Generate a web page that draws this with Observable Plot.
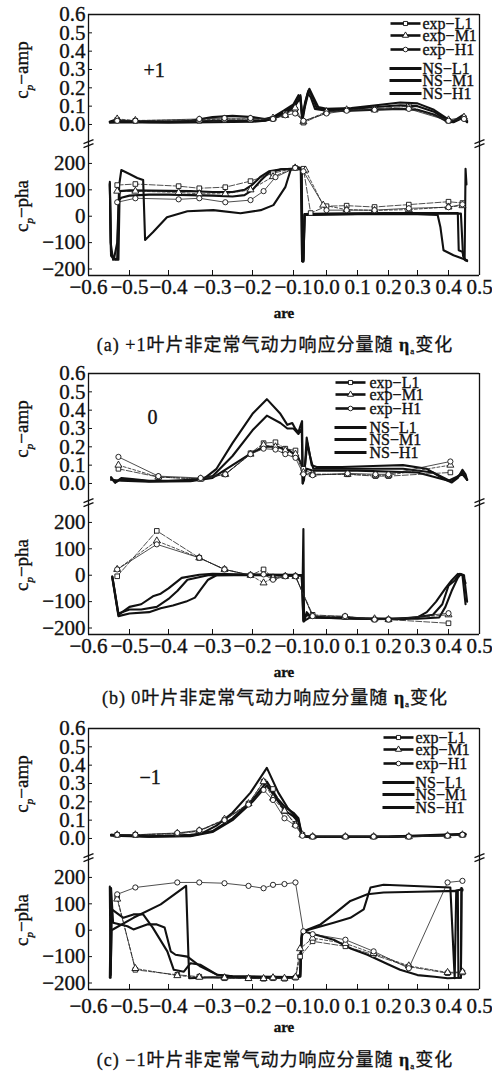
<!DOCTYPE html>
<html><head><meta charset="utf-8">
<script src="https://cdn.jsdelivr.net/npm/d3@7"></script>
<script src="https://cdn.jsdelivr.net/npm/@observablehq/plot@0.6"></script>
<style>
body{margin:0;background:#fff;}
#root{position:relative;width:492px;height:1075px;overflow:hidden;background:#fff;}
.pl{position:absolute;left:0;}
.pl text{stroke:#111;stroke-width:0.35px;}
.cap{position:absolute;white-space:nowrap;transform:translateX(-50%);font-family:"Liberation Serif","Noto Sans CJK SC",serif;font-size:18px;letter-spacing:1px;color:#111;line-height:24px;-webkit-text-stroke:0.3px #111;}
.cap sub{font-size:9px;vertical-align:-3px;}
</style></head><body><div id="root"></div>
<script>
// ---------- tick values / labels ----------
const xTicks = [-0.6,-0.5,-0.4,-0.3,-0.2,-0.1,0.0,0.1,0.2,0.3,0.4,0.5];
const ampTicks = [0,0.1,0.2,0.3,0.4,0.5,0.6];
const phaTicks = [-200,-100,0,100,200];
const seriesNames = ["exp−L1","exp−M1","exp−H1","NS−L1","NS−M1","NS−H1"];
const panelTags = ["+1","0","−1"];
const captionLead = ["(a) +1叶片非定常气动力响应分量随 ","(b) 0叶片非定常气动力响应分量随 ","(c) −1叶片非定常气动力响应分量随 "];
const xLabel = "are";
const ampName = "amp", phaName = "pha";

// ---------- panel (a) +1 ----------
const aAmpExpL1 = [[-0.53,0.025],[-0.485,0.02],[-0.33,0.02],[-0.27,0.025],[-0.205,0.025],[-0.15,0.03],[-0.12,0.06],[-0.095,0.08],[-0.07,0.01],[0.0,0.065],[0.065,0.08],[0.155,0.085],[0.27,0.1],[0.4,0.02],[0.45,0.035]];
const aAmpExpM1 = [[-0.53,0.03],[-0.485,0.022],[-0.33,0.025],[-0.27,0.03],[-0.205,0.03],[-0.15,0.035],[-0.12,0.05],[-0.095,0.09],[-0.07,0.015],[0.0,0.07],[0.065,0.08],[0.155,0.08],[0.27,0.09],[0.4,0.025],[0.45,0.04]];
const aAmpExpH1 = [[-0.53,0.02],[-0.485,0.02],[-0.33,0.03],[-0.27,0.035],[-0.205,0.035],[-0.15,0.03],[-0.12,0.05],[-0.095,0.06],[-0.07,0.02],[0.0,0.06],[0.065,0.075],[0.155,0.08],[0.27,0.085],[0.4,0.02],[0.45,0.03]];
const aAmpNsL1 = [[-0.548,0.015],[-0.53,0.03],[-0.52,0.02],[-0.48,0.015],[-0.4,0.015],[-0.35,0.02],[-0.3,0.04],[-0.25,0.048],[-0.2,0.04],[-0.17,0.03],[-0.15,0.04],[-0.124,0.075],[-0.1,0.11],[-0.085,0.16],[-0.078,0.12],[-0.073,0.02],[-0.065,0.1],[-0.052,0.195],[-0.04,0.15],[-0.025,0.095],[0.0,0.085],[0.08,0.09],[0.16,0.105],[0.24,0.12],[0.3,0.115],[0.353,0.08],[0.397,0.03],[0.416,0.018],[0.445,0.05],[0.46,0.02]];
const aAmpNsM1 = [[-0.548,0.015],[-0.52,0.018],[-0.45,0.012],[-0.35,0.015],[-0.3,0.02],[-0.25,0.02],[-0.2,0.02],[-0.17,0.02],[-0.15,0.035],[-0.124,0.07],[-0.1,0.1],[-0.085,0.15],[-0.079,0.16],[-0.073,0.03],[-0.065,0.12],[-0.055,0.185],[-0.045,0.16],[-0.03,0.09],[0.0,0.08],[0.08,0.085],[0.16,0.095],[0.24,0.105],[0.3,0.1],[0.353,0.07],[0.397,0.02],[0.416,0.015],[0.445,0.04],[0.46,0.015]];
const aAmpNsH1 = [[-0.548,0.01],[-0.5,0.012],[-0.4,0.01],[-0.3,0.012],[-0.2,0.015],[-0.17,0.02],[-0.15,0.03],[-0.124,0.06],[-0.1,0.09],[-0.085,0.13],[-0.079,0.15],[-0.074,0.04],[-0.065,0.11],[-0.057,0.17],[-0.048,0.15],[-0.035,0.085],[0.0,0.075],[0.08,0.075],[0.16,0.08],[0.24,0.085],[0.3,0.08],[0.353,0.055],[0.397,0.015],[0.416,0.012],[0.445,0.035],[0.46,0.012]];

const aPhaExpL1 = [[-0.53,118],[-0.485,122],[-0.377,114],[-0.33,106],[-0.268,110],[-0.205,133],[-0.15,163],[-0.095,183],[-0.07,180],[-0.048,12],[0.0,38],[0.065,40],[0.155,35],[0.27,44],[0.4,55],[0.445,50]];
const aPhaExpM1 = [[-0.53,95],[-0.485,95],[-0.377,90],[-0.33,85],[-0.268,85],[-0.205,100],[-0.15,150],[-0.095,183],[-0.064,175],[-0.01,42],[0.065,25],[0.155,22],[0.27,25],[0.4,35],[0.445,40]];
const aPhaExpH1 = [[-0.53,53],[-0.485,68],[-0.377,64],[-0.33,68],[-0.268,53],[-0.205,61],[-0.173,95],[-0.144,148],[-0.095,183],[-0.07,170],[0.0,23],[0.065,23],[0.155,23],[0.27,30],[0.4,34],[0.445,45]];
const aPhaNsL1 = [[-0.548,130],[-0.545,-150],[-0.538,-162],[-0.53,-100],[-0.525,120],[-0.52,175],[-0.5,160],[-0.48,145],[-0.465,137],[-0.46,-90],[-0.44,-61],[-0.404,-4],[-0.357,19],[-0.298,23],[-0.23,11],[-0.18,23],[-0.149,42],[-0.12,110],[-0.107,175],[-0.088,186],[-0.075,182],[-0.073,-172],[-0.07,-165],[-0.066,5],[-0.05,5],[0.1,8],[0.3,8],[0.365,5],[0.374,-42],[0.384,-129],[0.416,-148],[0.46,-167]];
const aPhaNsM1 = [[-0.548,125],[-0.545,-140],[-0.535,-165],[-0.527,-165],[-0.524,95],[-0.5,98],[-0.45,97],[-0.4,96],[-0.35,95],[-0.3,92],[-0.25,92],[-0.22,100],[-0.2,120],[-0.18,150],[-0.16,170],[-0.13,178],[-0.1,180],[-0.078,178],[-0.074,-170],[-0.07,-172],[-0.067,8],[0.0,10],[0.2,12],[0.35,12],[0.43,12],[0.433,-129],[0.445,-135],[0.452,-165],[0.455,180],[0.458,120]];
const aPhaNsH1 = [[-0.548,120],[-0.546,-100],[-0.54,-165],[-0.53,-160],[-0.526,60],[-0.52,70],[-0.5,78],[-0.45,82],[-0.4,82],[-0.35,80],[-0.3,78],[-0.25,75],[-0.22,80],[-0.2,100],[-0.18,135],[-0.16,165],[-0.13,178],[-0.1,180],[-0.076,178],[-0.074,-170],[-0.07,-170],[-0.066,5],[0.0,8],[0.2,10],[0.4,10],[0.44,10],[0.447,-150],[0.455,-168],[0.46,-170]];

// ---------- panel (b) 0 ----------
const bAmpExpL1 = [[-0.527,0.08],[-0.426,0.035],[-0.327,0.025],[-0.268,0.05],[-0.205,0.165],[-0.173,0.22],[-0.144,0.225],[-0.12,0.19],[-0.094,0.18],[-0.07,0.08],[-0.042,0.05],[0.068,0.05],[0.158,0.04],[0.2,0.04],[0.406,0.06]];
const bAmpExpM1 = [[-0.527,0.1],[-0.426,0.035],[-0.327,0.025],[-0.268,0.05],[-0.205,0.16],[-0.173,0.21],[-0.144,0.2],[-0.12,0.18],[-0.094,0.16],[-0.07,0.06],[-0.042,0.05],[0.068,0.05],[0.158,0.045],[0.2,0.045],[0.406,0.1]];
const bAmpExpH1 = [[-0.527,0.145],[-0.426,0.04],[-0.327,0.03],[-0.268,0.05],[-0.205,0.16],[-0.173,0.19],[-0.144,0.185],[-0.12,0.16],[-0.094,0.14],[-0.07,0.05],[-0.042,0.045],[0.068,0.055],[0.158,0.05],[0.2,0.05],[0.406,0.12]];
const bAmpNsL1 = [[-0.545,0.035],[-0.535,0.005],[-0.52,0.03],[-0.5,0.025],[-0.45,0.015],[-0.4,0.015],[-0.35,0.02],[-0.32,0.025],[-0.29,0.08],[-0.25,0.22],[-0.2,0.38],[-0.165,0.46],[-0.132,0.38],[-0.115,0.32],[-0.103,0.33],[-0.095,0.3],[-0.085,0.28],[-0.078,0.32],[-0.074,0.34],[-0.072,0.0],[-0.068,0.02],[-0.06,0.25],[-0.055,0.2],[-0.045,0.1],[-0.03,0.09],[0.05,0.09],[0.15,0.095],[0.25,0.1],[0.33,0.08],[0.38,0.03],[0.41,0.005],[0.43,0.03],[0.445,0.075],[0.455,0.05],[0.46,0.02]];
const bAmpNsM1 = [[-0.545,0.03],[-0.535,0.005],[-0.52,0.025],[-0.45,0.012],[-0.35,0.015],[-0.3,0.04],[-0.25,0.15],[-0.2,0.29],[-0.165,0.37],[-0.132,0.33],[-0.115,0.3],[-0.1,0.3],[-0.085,0.27],[-0.075,0.3],[-0.072,0.0],[-0.065,0.1],[-0.058,0.22],[-0.05,0.15],[-0.04,0.08],[0.1,0.08],[0.25,0.08],[0.35,0.06],[0.41,0.01],[0.445,0.06],[0.46,0.02]];
const bAmpNsH1 = [[-0.545,0.02],[-0.52,0.015],[-0.45,0.01],[-0.35,0.012],[-0.3,0.03],[-0.25,0.1],[-0.2,0.17],[-0.17,0.2],[-0.14,0.2],[-0.11,0.18],[-0.085,0.14],[-0.075,0.1],[-0.07,0.03],[-0.06,0.08],[-0.04,0.07],[0.1,0.07],[0.3,0.06],[0.4,0.015],[0.445,0.05],[0.46,0.02]];

const bPhaExpL1 = [[-0.53,-4],[-0.43,168],[-0.33,66],[-0.27,22],[-0.205,0],[-0.173,22],[-0.15,-10],[-0.12,-4],[-0.094,-4],[-0.042,-150],[0.06,-157],[0.155,-168],[0.2,-168],[0.4,-182]];
const bPhaExpM1 = [[-0.53,22],[-0.43,130],[-0.33,66],[-0.27,22],[-0.205,0],[-0.173,-29],[-0.15,-10],[-0.12,-4],[-0.094,-4],[-0.042,-155],[0.06,-158],[0.155,-165],[0.2,-168],[0.4,-150]];
const bPhaExpH1 = [[-0.53,22],[-0.43,117],[-0.33,66],[-0.27,22],[-0.205,0],[-0.173,3],[-0.15,-17],[-0.12,-4],[-0.094,-4],[-0.042,-155],[0.06,-155],[0.155,-168],[0.2,-168],[0.4,-144]];
const bPhaNsL1 = [[-0.542,-5],[-0.527,-150],[-0.5,-120],[-0.47,-110],[-0.44,-80],[-0.42,-70],[-0.4,-50],[-0.37,-10],[-0.33,2],[-0.3,5],[-0.2,3],[-0.1,2],[-0.072,0],[-0.07,175],[-0.068,-175],[-0.06,-140],[-0.05,-155],[0,-160],[0.1,-163],[0.2,-165],[0.3,-160],[0.33,-140],[0.36,-100],[0.39,-50],[0.41,-20],[0.43,5],[0.445,0],[0.455,-110]];
const bPhaNsM1 = [[-0.542,-5],[-0.527,-145],[-0.5,-130],[-0.47,-130],[-0.43,-120],[-0.4,-90],[-0.38,-60],[-0.357,-17],[-0.31,0],[-0.2,0],[-0.075,-2],[-0.07,-170],[-0.06,-150],[-0.04,-160],[0.1,-165],[0.25,-167],[0.35,-150],[0.38,-110],[0.4,-40],[0.42,-20],[0.435,5],[0.445,0],[0.455,-30]];
const bPhaNsH1 = [[-0.542,-10],[-0.527,-155],[-0.5,-145],[-0.45,-140],[-0.42,-125],[-0.39,-115],[-0.36,-100],[-0.34,-85],[-0.327,-55],[-0.31,-17],[-0.29,0],[-0.2,2],[-0.075,0],[-0.07,-175],[-0.05,-160],[0.1,-165],[0.3,-165],[0.37,-160],[0.39,-120],[0.41,-60],[0.43,-10],[0.44,5],[0.45,0],[0.46,-100]];

// ---------- panel (c) -1 ----------
const cAmpExpL1 = [[-0.53,0.02],[-0.485,0.02],[-0.38,0.025],[-0.33,0.04],[-0.27,0.1],[-0.21,0.19],[-0.173,0.31],[-0.15,0.27],[-0.122,0.15],[-0.094,0.08],[-0.073,0.02],[-0.042,0.01],[0.061,0.01],[0.152,0.01],[0.27,0.01],[0.397,0.015],[0.445,0.02]];
const cAmpExpM1 = [[-0.53,0.02],[-0.485,0.02],[-0.38,0.028],[-0.33,0.042],[-0.27,0.105],[-0.21,0.19],[-0.173,0.31],[-0.15,0.22],[-0.122,0.15],[-0.094,0.075],[-0.073,0.02],[-0.042,0.01],[0.061,0.01],[0.152,0.01],[0.27,0.01],[0.397,0.015],[0.445,0.02]];
const cAmpExpH1 = [[-0.53,0.02],[-0.485,0.02],[-0.38,0.03],[-0.33,0.045],[-0.27,0.1],[-0.21,0.185],[-0.173,0.265],[-0.15,0.21],[-0.122,0.11],[-0.094,0.07],[-0.073,0.015],[-0.042,0.01],[0.061,0.01],[0.152,0.01],[0.27,0.01],[0.397,0.015],[0.445,0.02]];
const cAmpNsL1 = [[-0.545,0.02],[-0.5,0.015],[-0.45,0.012],[-0.4,0.015],[-0.35,0.02],[-0.327,0.025],[-0.29,0.07],[-0.25,0.14],[-0.205,0.25],[-0.165,0.385],[-0.137,0.25],[-0.115,0.17],[-0.1,0.13],[-0.085,0.1],[-0.075,0.02],[-0.06,0.012],[0,0.01],[0.2,0.01],[0.35,0.015],[0.42,0.02],[0.455,0.02]];
const cAmpNsM1 = [[-0.545,0.02],[-0.45,0.01],[-0.35,0.015],[-0.3,0.04],[-0.25,0.11],[-0.2,0.21],[-0.165,0.31],[-0.14,0.22],[-0.12,0.17],[-0.1,0.14],[-0.085,0.11],[-0.075,0.02],[-0.06,0.01],[0.2,0.01],[0.455,0.025]];
const cAmpNsH1 = [[-0.545,0.015],[-0.45,0.01],[-0.35,0.012],[-0.3,0.035],[-0.25,0.1],[-0.2,0.2],[-0.165,0.29],[-0.14,0.21],[-0.12,0.15],[-0.1,0.12],[-0.085,0.09],[-0.075,0.015],[-0.06,0.008],[0.2,0.008],[0.455,0.02]];

const cPhaExpL1 = [[-0.53,124],[-0.485,-150],[-0.38,-169],[-0.33,-176],[-0.27,-182],[-0.21,-182],[-0.173,-184],[-0.15,-182],[-0.122,-184],[-0.094,-180],[-0.08,-100],[-0.042,-42],[0.061,-61],[0.152,-93],[0.27,-138],[0.397,-163],[0.445,-160]];
const cPhaExpM1 = [[-0.53,118],[-0.485,-145],[-0.38,-172],[-0.33,-178],[-0.27,-180],[-0.21,-183],[-0.173,-183],[-0.15,-180],[-0.122,-182],[-0.094,-178],[-0.08,-70],[-0.042,-30],[0.061,-50],[0.152,-88],[0.27,-135],[0.397,-160],[0.445,-158]];
const cPhaExpH1 = [[-0.53,136],[-0.485,162],[-0.38,181],[-0.33,181],[-0.27,178],[-0.21,168],[-0.173,159],[-0.15,172],[-0.122,175],[-0.094,181],[-0.07,-4],[-0.042,-15],[0.061,-36],[0.152,-80],[0.27,-144],[0.397,181],[0.445,187]];
const cPhaNsL1 = [[-0.548,165],[-0.546,-180],[-0.543,79],[-0.515,47],[-0.49,60],[-0.465,60],[-0.44,9],[-0.403,-80],[-0.388,-150],[-0.365,-157],[-0.35,-125],[-0.327,-131],[-0.288,-169],[-0.25,-175],[-0.15,-178],[-0.09,-178],[-0.079,-175],[-0.075,-20],[-0.07,-4],[-0.018,22],[0.023,60],[0.077,111],[0.132,136],[0.184,143],[0.3,146],[0.43,149],[0.432,-180],[0.44,-180],[0.442,160]];
const cPhaNsM1 = [[-0.548,-180],[-0.545,160],[-0.54,28],[-0.505,15],[-0.49,3],[-0.455,22],[-0.43,22],[-0.41,10],[-0.395,-80],[-0.384,-93],[-0.357,-100],[-0.327,-138],[-0.288,-169],[-0.25,-175],[-0.1,-177],[-0.08,-170],[-0.076,-30],[-0.07,-4],[0.023,28],[0.077,47],[0.12,79],[0.142,162],[0.184,172],[0.406,162],[0.42,-182],[0.425,150],[0.445,155]];
const cPhaNsH1 = [[-0.546,-170],[-0.544,0],[-0.49,47],[-0.42,98],[-0.36,168],[-0.353,-182],[-0.3,-178],[-0.2,-180],[-0.09,-180],[-0.08,-175],[-0.075,-10],[-0.07,-4],[0.023,-36],[0.08,-70],[0.132,-93],[0.2,-130],[0.24,-150],[0.3,-170],[0.355,-176],[0.397,-182],[0.44,-180],[0.442,160],[0.445,150]];

// ---------- layout / style (not data) ----------
const SERIF = '"Liberation Serif","Times New Roman",serif';
const X_RANGE = [88,129,168,212,252,293,326,357,388,417,448,479];
const AMP_LOW = -0.142, AMP_BREAK = -0.104;
const PHA_LOW = -224.6, PHA_HIGH = 249;
const panels = [
  {top:0,   capY:345,  tagDx:55, tagDy:48, legLine:405, legText:422,
   amp:[aAmpNsL1,aAmpNsM1,aAmpNsH1,aAmpExpL1,aAmpExpM1,aAmpExpH1],
   pha:[aPhaNsL1,aPhaNsM1,aPhaNsH1,aPhaExpL1,aPhaExpM1,aPhaExpH1]},
  {top:359, capY:698,  tagDx:59, tagDy:36, legLine:350, legText:369,
   amp:[bAmpNsL1,bAmpNsM1,bAmpNsH1,bAmpExpL1,bAmpExpM1,bAmpExpH1],
   pha:[bPhaNsL1,bPhaNsM1,bPhaNsH1,bPhaExpL1,bPhaExpM1,bPhaExpH1]},
  {top:714, capY:1060, tagDx:51, tagDy:41, legLine:398, legText:415,
   amp:[cAmpNsL1,cAmpNsM1,cAmpNsH1,cAmpExpL1,cAmpExpM1,cAmpExpH1],
   pha:[cPhaNsL1,cPhaNsM1,cPhaNsH1,cPhaExpL1,cPhaExpM1,cPhaExpH1]}
];
const legDy = [9,21,35,54,66,79];
const expSymbols = ["square","triangle","circle"];
const expDash = ["6,2","3,2",null];

const rows = pairs => pairs.map(([x,y]) => ({x,y}));
const lineSym = len => ({draw(ctx){ ctx.moveTo(-len/2,0); ctx.lineTo(len/2,0); }});
const breakSym = {draw(ctx){ ctx.moveTo(-5,0); ctx.lineTo(5,-4); ctx.moveTo(-5,4); ctx.lineTo(5,0); }};

function seriesMarks(sets){
  const m = [];
  for (let i=0;i<3;i++) m.push(Plot.line(rows(sets[i]), {x:"x",y:"y",stroke:"#111",strokeWidth:2.1}));
  for (let i=0;i<3;i++) m.push(Plot.line(rows(sets[3+i]), {x:"x",y:"y",stroke:"#222",strokeWidth:0.8,strokeDasharray:expDash[i]}));
  for (let i=0;i<3;i++) m.push(Plot.dot(rows(sets[3+i]), {x:"x",y:"y",symbol:expSymbols[i],r:2.6,fill:"white",stroke:"#111",strokeWidth:0.9}));
  return m;
}

function addYLabel(svg, cy, name){
  const ns = "http://www.w3.org/2000/svg";
  const t = document.createElementNS(ns,"text");
  t.setAttribute("transform",`translate(28,${cy}) rotate(-90)`);
  t.setAttribute("text-anchor","middle");
  t.style.fontSize = "19px";
  t.style.fontFamily = SERIF;
  t.style.fill = "#111";
  t.appendChild(document.createTextNode("c"));
  const s = document.createElementNS(ns,"tspan");
  s.style.fontSize = "11px"; s.style.fontStyle = "italic"; s.setAttribute("dy","5");
  s.textContent = "p"; t.appendChild(s);
  const r = document.createElementNS(ns,"tspan");
  r.setAttribute("dy","-5"); r.textContent = "−" + name; t.appendChild(r);
  svg.appendChild(t);
}

const root = document.getElementById("root");
const fmtAmp = d3.format(".1f"), fmtX = d3.format(".1f"), fmtPha = d3.format("d");

panels.forEach((p, pi) => {
  const leg = [];
  for (let i=0;i<6;i++){
    const isExp = i<3;
    leg.push(Plot.dot([0], {frameAnchor:"top-right", dx:p.legLine-479, dy:legDy[i], symbol:lineSym(isExp?30:32), stroke:"#111", fill:"none", strokeWidth:isExp?2.6:3}));
    if (isExp) leg.push(Plot.dot([0], {frameAnchor:"top-right", dx:p.legLine-479, dy:legDy[i], symbol:expSymbols[i], r:2.3, fill:"white", stroke:"#111", strokeWidth:0.9}));
    leg.push(Plot.text([seriesNames[i]], {text:d=>d, frameAnchor:"top-right", dx:p.legText-479, dy:legDy[i], textAnchor:"start", lineAnchor:"middle", fontSize:16, fill:"#111"}));
  }
  const amp = Plot.plot({
    width:492, height:150, marginTop:14, marginBottom:0, marginLeft:88, marginRight:13,
    style:{fontFamily:SERIF, fontSize:"21px", color:"#111", background:"transparent"},
    x:{type:"linear", domain:xTicks, range:X_RANGE, axis:null},
    y:{domain:[AMP_LOW,0.6], axis:null},
    marks:[
      Plot.axisY({ticks:ampTicks, tickSize:-4, tickPadding:7, tickFormat:fmtAmp, label:null, anchor:"left"}),
      Plot.ruleY([0.6], {stroke:"#111", strokeWidth:1.3}),
      Plot.ruleX([xTicks[0], xTicks[xTicks.length-1]], {y1:AMP_LOW, y2:0.6, stroke:"#111", strokeWidth:1.3}),
      Plot.dot([xTicks[0], xTicks[xTicks.length-1]], {x:d=>d, y:AMP_BREAK, symbol:breakSym, stroke:"#111", fill:"none", strokeWidth:1.3}),
      ...seriesMarks(p.amp),
      Plot.text([panelTags[pi]], {text:d=>d, frameAnchor:"top-left", dx:p.tagDx, dy:p.tagDy, fontSize:20, fill:"#111"}),
      ...leg
    ]
  });
  amp.classList.add("pl"); amp.style.top = p.top + "px";
  addYLabel(amp, 70, ampName);
  root.appendChild(amp);

  const pha = Plot.plot({
    width:492, height:180, marginTop:0, marginBottom:55, marginLeft:88, marginRight:13,
    style:{fontFamily:SERIF, fontSize:"21px", color:"#111", background:"transparent"},
    x:{type:"linear", domain:xTicks, range:X_RANGE, axis:null},
    y:{domain:[PHA_LOW,PHA_HIGH], axis:null},
    marks:[
      Plot.axisY({ticks:phaTicks, tickSize:-4, tickPadding:7, tickFormat:fmtPha, label:null, anchor:"left"}),
      Plot.axisX({ticks:xTicks, tickSize:-5, tickPadding:9 + (pi===2?5:0), tickFormat:fmtX, label:null, anchor:"bottom"}),
      Plot.ruleY([PHA_LOW], {stroke:"#111", strokeWidth:1.3}),
      Plot.ruleX([xTicks[0], xTicks[xTicks.length-1]], {y1:PHA_LOW, y2:PHA_HIGH, stroke:"#111", strokeWidth:1.3}),
      ...seriesMarks(p.pha),
      Plot.text([xLabel], {text:d=>d, frameAnchor:"bottom", dy:42, fontSize:15, fontWeight:"bold", fill:"#111"})
    ]
  });
  pha.classList.add("pl"); pha.style.top = (p.top+150) + "px";
  addYLabel(pha, 56, phaName);
  root.appendChild(pha);

  const cap = document.createElement("div");
  cap.className = "cap";
  cap.style.left = "275px"; cap.style.top = (p.capY - 12) + "px";
  cap.appendChild(document.createTextNode(captionLead[pi]));
  const eta = document.createElement("b"); eta.textContent = "η"; cap.appendChild(eta);
  const sub = document.createElement("sub"); sub.textContent = "a"; cap.appendChild(sub);
  cap.appendChild(document.createTextNode("变化"));
  root.appendChild(cap);
});
</script></body></html>
